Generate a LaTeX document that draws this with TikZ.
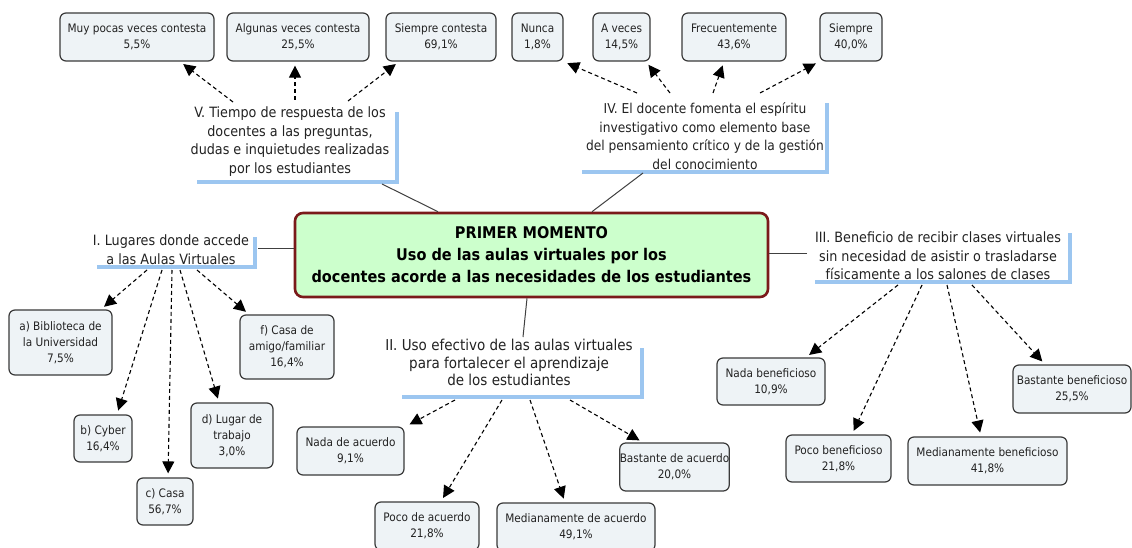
\documentclass[tikz,border=0pt]{standalone}
\usepackage{fontspec}
\setmainfont{DejaVu Sans Condensed}
\usetikzlibrary{arrows.meta}
\definecolor{boxfill}{HTML}{EEF3F6}
\definecolor{boxline}{HTML}{3A3A3A}
\definecolor{mainfill}{HTML}{CCFFCC}
\definecolor{mainline}{HTML}{7A1A1A}
\definecolor{bracket}{HTML}{9CC6F0}
\definecolor{txt}{HTML}{222222}
\tikzset{
  opt/.style={draw=boxline, fill=boxfill, rounded corners=6pt, line width=1.2pt,
    align=center, inner sep=0pt, text=txt, font=\fontsize{11.7}{15.8}\selectfont},
  lbl/.style={align=center, inner sep=0pt, text=txt, font=\fontsize{14.2}{18.7}\selectfont},
  brk/.style={draw=bracket, line width=3.5pt},
  darr/.style={draw=black, line width=1.1pt, dash pattern=on 4pt off 3pt,
    -{Triangle[length=12pt,width=12pt]}, shorten >=4pt},
  link/.style={draw=black!75, line width=1pt}
}
\begin{document}
\begin{tikzpicture}[x=1pt,y=-1pt]
\useasboundingbox (0,0) rectangle (1132,548);
\fill[white] (0,0) rectangle (1132,548);

% central node
\node[draw=mainline, fill=mainfill, line width=2.6pt, rounded corners=8pt,
  minimum width=473pt, minimum height=84pt, align=center, inner sep=0pt,
  font=\bfseries\fontsize{16.1}{22}\selectfont] (c) at (531.5,255)
  {PRIMER MOMENTO\\Uso de las aulas virtuales por los\\docentes acorde a las necesidades de los estudiantes};

% branch labels
\node[lbl] (lv) at (290,141.5) {V. Tiempo de respuesta de los\\docentes a las preguntas,\\dudas e inquietudes realizadas\\por los estudiantes};
\node[lbl, font=\fontsize{13.6}{18.5}\selectfont] (liv) at (705,136) {IV. El docente fomenta el espíritu\\investigativo como elemento base\\del pensamiento crítico y de la gestión\\del conocimiento};
\node[lbl] (li) at (171,249.5) {I. Lugares donde accede\\a las Aulas Virtuales};
\node[lbl, font=\fontsize{15}{17.6}\selectfont] (lii) at (509,362.5) {II. Uso efectivo de las aulas virtuales\\para fortalecer el aprendizaje\\de los estudiantes};
\node[lbl] (liii) at (938,256) {III. Beneficio de recibir clases virtuales\\sin necesidad de asistir o trasladarse\\físicamente a los salones de clases};

% blue brackets
\draw[brk] (197,182) -- (397,182) -- (397,112);
\draw[brk] (582,172) -- (827,172) -- (827,103);
\draw[brk] (97,267) -- (255,267) -- (255,237);
\draw[brk] (402,397) -- (642,397) -- (642,348);
\draw[brk] (815,282) -- (1070,282) -- (1070,233);

% answer boxes
\node[opt, minimum width=154pt, minimum height=48pt] (b51) at (137,37) {Muy pocas veces contesta\\5,5\%};
\node[opt, minimum width=142pt, minimum height=48pt] (b52) at (298,37) {Algunas veces contesta\\25,5\%};
\node[opt, minimum width=110pt, minimum height=48pt] (b53) at (441,37) {Siempre contesta\\69,1\%};
\node[opt, minimum width=51pt, minimum height=48pt] (b41) at (537.5,37) {Nunca\\1,8\%};
\node[opt, minimum width=57pt, minimum height=48pt] (b42) at (621.5,37) {A veces\\14,5\%};
\node[opt, minimum width=104pt, minimum height=48pt] (b43) at (734,37) {Frecuentemente\\43,6\%};
\node[opt, minimum width=62pt, minimum height=48pt] (b44) at (851,37) {Siempre\\40,0\%};

\node[opt, minimum width=103pt, minimum height=65pt] (ba) at (60.5,342.5) {a) Biblioteca de\\la Universidad\\7,5\%};
\node[opt, minimum width=58pt, minimum height=47pt] (bb) at (103,438.5) {b) Cyber\\16,4\%};
\node[opt, minimum width=56pt, minimum height=47pt] (bc) at (165,501.5) {c) Casa\\56,7\%};
\node[opt, minimum width=82pt, minimum height=65pt] (bd) at (232,435.5) {d) Lugar de\\trabajo\\3,0\%};
\node[opt, minimum width=94pt, minimum height=64pt] (bf) at (287,347) {f) Casa de\\amigo/familiar\\16,4\%};

\node[opt, minimum width=107pt, minimum height=48pt] (n1) at (350.5,451) {Nada de acuerdo\\9,1\%};
\node[opt, minimum width=104pt, minimum height=48pt] (n2) at (427,526) {Poco de acuerdo\\21,8\%};
\node[opt, minimum width=158pt, minimum height=48pt] (n3) at (576,527) {Medianamente de acuerdo\\49,1\%};
\node[opt, minimum width=105pt, minimum height=48pt] (n4) at (674.5,467) {Bastante de acuerdo\\20,0\%};

\node[opt, minimum width=108pt, minimum height=47pt] (m1) at (771,381.5) {Nada beneficioso\\10,9\%};
\node[opt, minimum width=105pt, minimum height=47pt] (m2) at (838.5,458.5) {Poco beneficioso\\21,8\%};
\node[opt, minimum width=159pt, minimum height=48pt] (m3) at (987.5,461) {Medianamente beneficioso\\41,8\%};
\node[opt, minimum width=118pt, minimum height=48pt] (m4) at (1072,389) {Bastante beneficioso\\25,5\%};

% start points of dashed connectors
\coordinate (v1) at (233,102);
\coordinate (v2) at (295,100);
\coordinate (v3) at (348,101);
\coordinate (iv1) at (637,93);
\coordinate (iv2) at (670,93);
\coordinate (iv3) at (713,93);
\coordinate (iv4) at (760,93);
\coordinate (i1) at (147,270);
\coordinate (i2) at (162,270);
\coordinate (i3) at (172,270);
\coordinate (i4) at (180,270);
\coordinate (i5) at (197,270);
\coordinate (ii1) at (455,400);
\coordinate (ii2) at (502,400);
\coordinate (ii3) at (530,400);
\coordinate (ii4) at (570,400);
\coordinate (iii1) at (898,285);
\coordinate (iii2) at (922,285);
\coordinate (iii3) at (947,285);
\coordinate (iii4) at (972,285);

% solid links to the central node
\coordinate (lvb) at (382,184);
\coordinate (livb) at (643,173);
\coordinate (lir) at (258,248);
\coordinate (liit) at (523,337);
\coordinate (liiil) at (807,253);
\draw[link] (lvb) -- (c.north -| 438,0);
\draw[link] (livb) -- (c.north -| 592,0);
\draw[link] (lir) -- (c.west |- 0,248);
\draw[link] (liit) -- (c.south -| 527,0);
\draw[link] (liiil) -- (c.east |- 0,253);

% dashed arrows
\draw[darr] (v1) -- (b51.south -| 180,0);
\draw[darr] (v2) -- (b52.south -| 295,0);
\draw[darr] (v3) -- (b53.south -| 399,0);
\draw[darr] (iv1) -- (b41.south east);
\draw[darr] (iv2) -- (b42.south -| 646,0);
\draw[darr] (iv3) -- (b43.south -| 724,0);
\draw[darr] (iv4) -- (b44.south west);
\draw[darr] (i1) -- (ba.north -| 101,0);
\draw[darr] (i2) -- (bb.north -| 117,0);
\draw[darr] (i3) -- (bc.north -| 168,0);
\draw[darr] (i4) -- (bd.north -| 219,0);
\draw[darr] (i5) -- (bf.north -| 249,0);
\draw[darr] (ii1) -- (n1.north -| 406,0);
\draw[darr] (ii2) -- (n2.north -| 441,0);
\draw[darr] (ii3) -- (n3.north -| 565,0);
\draw[darr] (ii4) -- (n4.north -| 643,0);
\draw[darr] (iii1) -- (m1.north -| 806,0);
\draw[darr] (iii2) -- (m2.north -| 852,0);
\draw[darr] (iii3) -- (m3.north -| 981,0);
\draw[darr] (iii4) -- (m4.north -| 1045,0);
\end{tikzpicture}
\end{document}
